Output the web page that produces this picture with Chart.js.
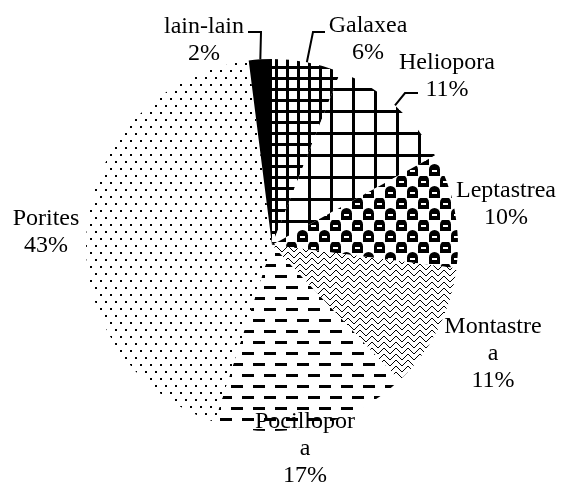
<!DOCTYPE html>
<html>
<head>
<meta charset="utf-8">
<script src="https://cdn.jsdelivr.net/npm/chart.js@4"></script>
<style>
  html, body { margin: 0; padding: 0; background: #fff; }
  #wrap { width: 563px; height: 482px; }
</style>
</head>
<body>
<div id="wrap"><canvas id="coralPie" width="563" height="482"></canvas></div>
<script>
// slice order as drawn, clockwise from 12 o'clock
const genera = ['Galaxea', 'Heliopora', 'Leptastrea', 'Montastrea', 'Pocillopora', 'Porites', 'lain-lain'];
const cover = [6, 11, 10, 11, 17, 43, 2];

const canvas = document.getElementById('coralPie');
const ctx = canvas.getContext('2d');

// ----- fill patterns -----
function makePattern(w, h, draw) {
  const c = document.createElement('canvas');
  c.width = w; c.height = h;
  const g = c.getContext('2d');
  g.fillStyle = '#fff';
  g.fillRect(0, 0, w, h);
  g.fillStyle = '#000';
  draw(g, w, h);
  return ctx.createPattern(c, 'repeat');
}

const smallGrid = makePattern(11, 11, g => {
  g.fillRect(0, 0, 11, 3);
  g.fillRect(0, 0, 3, 11);
});
const bigGrid = makePattern(22, 22, g => {
  g.fillRect(0, 0, 22, 3);
  g.fillRect(0, 0, 3, 22);
});
const checkerBalls = makePattern(22, 22, g => {
  [[0, 0], [11, 11]].forEach(([x, y]) => {
    g.beginPath();
    g.arc(x + 5.5, y + 4.5, 5.5, Math.PI, 0);
    g.fill();
    g.fillRect(x, y + 4, 11, 7);
  });
  g.fillStyle = '#fff';
  g.fillRect(3, 5, 5, 2);
  g.fillRect(14, 16, 5, 2);
});
const weave = makePattern(12, 12, g => {
  for (let i = 0; i < 6; i++) {
    g.fillRect(i, i, 1, 1);
    g.fillRect(6 + i, 5 - i, 1, 1);
    g.fillRect(i, (i + 6) % 12, 1, 1);
    g.fillRect(6 + i, 11 - i, 1, 1);
  }
});
const dashes = makePattern(22, 22, g => {
  g.fillRect(0, 0, 12, 3);
  g.fillRect(11, 11, 11, 3);
  g.fillRect(0, 11, 1, 3);
});
const dots = makePattern(10, 14, g => {
  g.fillRect(0, 0, 2, 2);
  g.fillRect(5, 7, 2, 2);
});

const fills = [smallGrid, bigGrid, checkerBalls, weave, dashes, dots, '#000'];

// ----- label placement (first baseline, optional line break, optional leader elbow) -----
const labelLayout = [
  { x: 368, y: 32, elbow: [[325, 32], [313, 32]] },
  { x: 447, y: 69, elbow: [[418, 93], [405, 93]] },
  { x: 506, y: 197 },
  { x: 493, y: 333, breakAt: 9 },
  { x: 305, y: 428, breakAt: 10 },
  { x: 46, y: 225 },
  { x: 204, y: 33, elbow: [[248, 32], [261, 32]] }
];

const sliceLabels = {
  id: 'sliceLabels',
  afterDatasetsDraw(chart) {
    const c = chart.ctx;
    const meta = chart.getDatasetMeta(0);
    const values = chart.data.datasets[0].data;
    const total = values.reduce((a, b) => a + b, 0);
    c.save();
    c.fillStyle = '#000';
    c.strokeStyle = '#000';
    c.lineWidth = 2;
    c.font = '24px "Liberation Serif", "Times New Roman", serif';
    c.textAlign = 'center';
    c.textBaseline = 'alphabetic';
    meta.data.forEach((arc, i) => {
      const lay = labelLayout[i];
      const name = chart.data.labels[i];
      const lines = lay.breakAt ? [name.slice(0, lay.breakAt), name.slice(lay.breakAt)] : [name];
      lines.push(Math.round(values[i] / total * 100) + '%');
      lines.forEach((t, k) => c.fillText(t, lay.x, lay.y + k * 27));
      if (lay.elbow) {
        const mid = (arc.startAngle + arc.endAngle) / 2;
        const px = arc.x + Math.cos(mid) * arc.outerRadius;
        const py = arc.y + Math.sin(mid) * arc.outerRadius;
        c.beginPath();
        c.moveTo(lay.elbow[0][0], lay.elbow[0][1]);
        c.lineTo(lay.elbow[1][0], lay.elbow[1][1]);
        c.lineTo(px, py);
        c.stroke();
      }
    });
    c.restore();
  }
};

new Chart(ctx, {
  type: 'pie',
  data: {
    labels: genera,
    datasets: [{
      data: cover,
      backgroundColor: fills,
      borderWidth: 0
    }]
  },
  options: {
    responsive: false,
    animation: false,
    layout: { padding: { left: 86, right: 105, top: 59, bottom: 51 } },
    plugins: {
      legend: { display: false },
      tooltip: { enabled: false }
    }
  },
  plugins: [sliceLabels]
});
</script>
</body>
</html>
